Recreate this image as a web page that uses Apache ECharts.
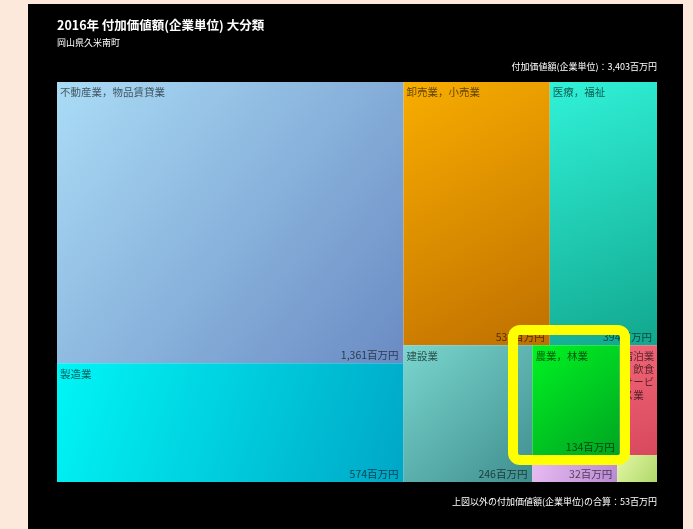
<!DOCTYPE html>
<html><head><meta charset="utf-8">
<script src="https://cdn.jsdelivr.net/npm/echarts@6/dist/echarts.min.js"></script>
<style>
html,body{margin:0;padding:0;background:#fde9dc;width:693px;height:529px;overflow:hidden}
#c{position:absolute;left:28px;top:4px;width:655px;height:525px}
</style></head><body><div id="c"></div>
<script>
// ---- data ----
const categories = [
  '不動産業，物品賃貸業',
  '製造業',
  '卸売業，小売業',
  '医療，福祉',
  '建設業',
  '農業，林業',
  '宿泊業，飲食サービス業',
  '生活関連サービス業，娯楽業',
  'サービス業（他に分類されないもの）'
];
const values = [1361, 574, 537, 394, 246, 134, 57, 32, 15];
const totalValue = 3403;
const otherValue = 53;
const titleText = '2016年 付加価値額(企業単位) 大分類';
const subtitleText = '岡山県久米南町';
const hideNameLabel = ['生活関連サービス業，娯楽業', 'サービス業（他に分類されないもの）'];
const hideValueLabel = ['宿泊業，飲食サービス業', 'サービス業（他に分類されないもの）'];

// ---- styles ----
const gradientStops = [
  ['#aadcf6', '#6a8bc3'],
  ['#00f6f6', '#00a6c6'],
  ['#f8ad00', '#bf6f00'],
  ['#30f2d8', '#11a78e'],
  ['#7ad6ce', '#3f8e8e'],
  ['#00f422', '#00a422'],
  ['#f06676', '#d8485e'],
  ['#e8bcf2', '#b98ad2'],
  ['#e4f8a4', '#b0d86c']
];
const FONT = '"Noto Sans CJK JP", "Noto Sans", sans-serif';
const labelColor = 'rgba(0,0,0,0.62)';

function grad(i) {
  return new echarts.graphic.LinearGradient(0, 0, 1, 1, [
    {offset: 0, color: gradientStops[i][0]},
    {offset: 1, color: gradientStops[i][1]}
  ]);
}
function fmt(v) { return v.toLocaleString('en-US'); }

const dataA = categories.map((name, i) => {
  const d = {name: name, value: values[i], itemStyle: {color: grad(i)}};
  if (hideNameLabel.includes(name)) d.label = {show: false};
  return d;
});
const dataB = categories.map((name, i) => {
  const d = {name: name, value: values[i], itemStyle: {color: 'rgba(0,0,0,0)'}};
  if (hideValueLabel.includes(name)) d.label = {show: false};
  return d;
});

const area = {left: 29, top: 78, width: 600, height: 400};
const common = {
  type: 'treemap',
  left: area.left, top: area.top, width: area.width, height: area.height,
  roam: false, nodeClick: false,
  breadcrumb: {show: false},
  animation: false,
  emphasis: {disabled: true},
  itemStyle: {borderWidth: 0, gapWidth: 0}
};

const chart = echarts.init(document.getElementById('c'), null, {renderer: 'canvas'});
chart.setOption({
  backgroundColor: '#000',
  animation: false,
  title: [
    {
      text: titleText, subtext: subtitleText,
      left: 29, top: 15, padding: 0, itemGap: 7,
      textStyle: {color: '#fff', fontSize: 12.5, fontWeight: 'bold', fontFamily: FONT},
      subtextStyle: {color: '#fff', fontSize: 9, fontFamily: FONT}
    },
    {
      text: '付加価値額(企業単位)：' + fmt(totalValue) + '百万円',
      right: 26, top: 58, padding: 0,
      textStyle: {color: '#fff', fontSize: 9, fontWeight: 'normal', fontFamily: FONT}
    },
    {
      text: '上図以外の付加価値額(企業単位)の合算：' + fmt(otherValue) + '百万円',
      right: 26, top: 493, padding: 0,
      textStyle: {color: '#fff', fontSize: 9, fontWeight: 'normal', fontFamily: FONT}
    }
  ],
  series: [
    Object.assign({}, common, {
      name: 'names',
      label: {
        show: true, position: 'insideTopLeft', distance: 0, padding: [4, 1, 4, 3],
        formatter: '{b}', fontSize: 10.5, color: labelColor, fontFamily: FONT,
        overflow: 'break', lineHeight: 13
      },
      data: dataA
    }),
    Object.assign({}, common, {
      name: 'values',
      silent: true,
      label: {
        show: true, position: 'insideBottomRight', distance: 0, padding: [3, 5],
        formatter: p => fmt(p.value) + '百万円',
        fontSize: 10.5, color: labelColor, fontFamily: FONT
      },
      data: dataB
    })
  ],
  graphic: [{
    type: 'rect', z: 100,
    shape: {x: 485, y: 326, width: 112, height: 130, r: 7},
    style: {fill: 'none', stroke: '#ffff00', lineWidth: 10}
  }]
});
</script></body></html>
